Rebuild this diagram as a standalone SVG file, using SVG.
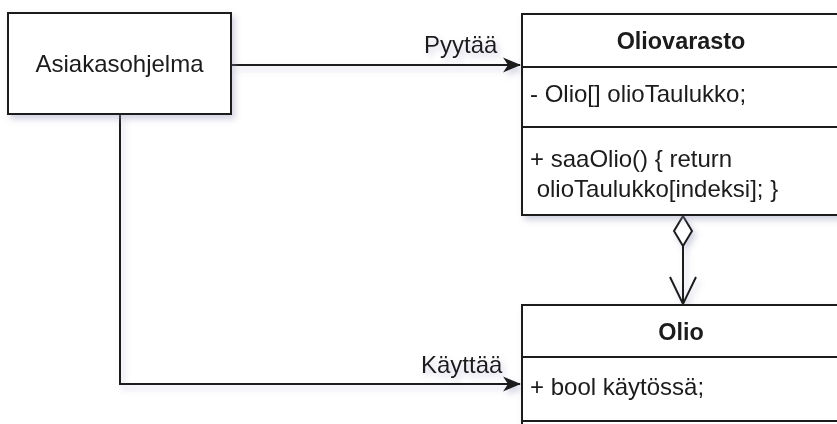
<svg xmlns="http://www.w3.org/2000/svg" width="837" height="424" viewBox="0 0 837 424">
  <defs>
    <filter id="shadow" x="-10%" y="-10%" width="130%" height="140%">
      <feGaussianBlur in="SourceAlpha" stdDeviation="3"/>
      <feOffset dx="3" dy="4" result="blur"/>
      <feFlood flood-color="#8c8cb4" flood-opacity="0.4"/>
      <feComposite in2="blur" operator="in" result="sh"/>
      <feMerge>
        <feMergeNode in="sh"/>
        <feMergeNode in="SourceGraphic"/>
      </feMerge>
    </filter>
    <marker id="filled" viewBox="0 0 18 16" refX="17" refY="8" markerWidth="18" markerHeight="16" markerUnits="userSpaceOnUse" orient="auto">
      <path d="M0,0.5 L18,8 L0,15.5 L5,8 Z" fill="#1a1a1a"/>
    </marker>
  </defs>
  <style>
    .box { fill: #ffffff; stroke: #1a1a1a; stroke-width: 2; }
    .sep { stroke: #1a1a1a; stroke-width: 2; fill: none; }
    .edge { stroke: #1a1a1a; stroke-width: 2; fill: none; }
    text { font-family: "Liberation Sans", Arial, sans-serif; font-size: 24px; fill: #1a1a1a; }
    .title { font-weight: bold; text-anchor: middle; font-size: 23.4px; }
    .mid { text-anchor: middle; }
  </style>

  <g id="connectors" filter="url(#shadow)">
    <path class="edge" d="M231,65 L520,65" marker-end="url(#filled)"/>
    <text x="424" y="53">Pyytää</text>
    <path class="edge" d="M120,114 L120,384 L520,384" marker-end="url(#filled)"/>
    <text x="421" y="373">Käyttää</text>
    <!-- aggregation: diamond at the owner, open arrow at the part -->
    <path class="edge" d="M683,246 L683,304"/>
    <path class="edge" d="M670,277 L683,304 L696,277"/>
    <path class="box" d="M683,216 L692,231 L683,246 L674,231 Z"/>
  </g>

  <g id="asiakasohjelma" filter="url(#shadow)">
    <rect class="box" x="8" y="13" width="223" height="101"/>
    <text class="mid" x="119.5" y="72">Asiakasohjelma</text>
  </g>

  <g id="oliovarasto" filter="url(#shadow)">
    <rect class="box" x="522" y="14" width="320" height="201"/>
    <path class="sep" d="M522,67 L842,67 M522,127 L842,127"/>
    <text class="title" x="681" y="49">Oliovarasto</text>
    <text x="530" y="102">- Olio[] olioTaulukko;</text>
    <text x="530" y="167">+ saaOlio() { return</text>
    <text x="530" y="197" xml:space="preserve"> olioTaulukko[indeksi]; }</text>
  </g>

  <g id="olio" filter="url(#shadow)">
    <rect class="box" x="522" y="305" width="320" height="140"/>
    <path class="sep" d="M522,357 L842,357 M522,421 L842,421"/>
    <text class="title" x="681" y="340">Olio</text>
    <text x="530" y="395">+ bool käytössä;</text>
  </g>
</svg>
